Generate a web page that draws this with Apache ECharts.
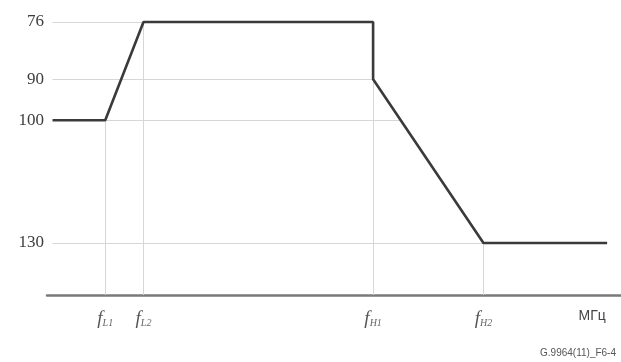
<!DOCTYPE html>
<html>
<head>
<meta charset="utf-8">
<script src="https://cdn.jsdelivr.net/npm/echarts@6/dist/echarts.min.js"></script>
<style>
  html, body { margin: 0; padding: 0; background: #fff; }
  #chart { width: 621px; height: 362px; }
</style>
</head>
<body>
<div id="chart"></div>
<script>
// schematic frequencies (arbitrary units) and levels of the mask
var maskFreqs = [0, 9.5, 16.4, 57.8, 57.8, 77.7, 100];
var maskLevels = [100, 100, 76, 76, 90, 130, 130];

// tick labels
var yTicks = [76, 90, 100, 130];
var xTicks = [9.5, 16.4, 57.8, 77.7];
var xTickNames = ['L1', 'L2', 'H1', 'H2'];
var unitPos = 97.3;
var unitName = 'МГц';

var xMin = -1, xMax = 102.5;
var yMin = 76, yMax = 142.7;

// x where the mask crosses a given level (last crossing, on the falling side)
function crossX(level) {
  for (var i = maskFreqs.length - 2; i >= 0; i--) {
    var a = maskLevels[i], b = maskLevels[i + 1];
    if (a !== b && level >= Math.min(a, b) && level <= Math.max(a, b)) {
      return maskFreqs[i] + (level - a) / (b - a) * (maskFreqs[i + 1] - maskFreqs[i]);
    }
  }
  return maskFreqs[0];
}

var dropLines = [];
yTicks.forEach(function (lv) {
  dropLines.push([{ coord: [0, lv] }, { coord: [crossX(lv), lv] }]);
});
// vertical drop lines from the mask corners down to the axis
[1, 2, 4, 5].forEach(function (i) {
  dropLines.push([{ coord: [maskFreqs[i], maskLevels[i]] }, { coord: [maskFreqs[i], yMax] }]);
});

var data = maskFreqs.map(function (f, i) { return [f, maskLevels[i]]; });

var chart = echarts.init(document.getElementById('chart'));
chart.setOption({
  backgroundColor: '#fff',
  animation: false,
  grid: { left: 47, right: 0, top: 22, bottom: 67 },
  xAxis: {
    type: 'value',
    min: xMin,
    max: xMax,
    axisLine: { show: true, lineStyle: { color: '#7a7a7a', width: 2.5 } },
    axisTick: { show: false },
    splitLine: { show: false },
    axisLabel: {
      customValues: xTicks.concat([unitPos]),
      margin: 14,
      formatter: function (v) {
        var k = xTicks.indexOf(v);
        if (k < 0) return '{u|' + unitName + '}';
        return '{f|f}{s|' + xTickNames[k] + '}';
      },
      rich: {
        f: { fontFamily: 'Liberation Serif', fontStyle: 'italic', fontSize: 19, color: '#555' },
        s: { fontFamily: 'Liberation Serif', fontStyle: 'italic', fontSize: 10, color: '#666', padding: [9, 0, 0, 0] },
        u: { fontFamily: 'Liberation Sans', fontSize: 14, color: '#444' }
      }
    }
  },
  yAxis: {
    type: 'value',
    inverse: true,
    min: yMin,
    max: yMax,
    axisLine: { show: false },
    axisTick: { show: false },
    splitLine: { show: false },
    axisLabel: {
      customValues: yTicks,
      margin: 3,
      fontFamily: 'Liberation Serif',
      fontSize: 17,
      color: '#3d3d3d'
    }
  },
  graphic: [{
    type: 'text',
    right: 5,
    bottom: 4,
    style: { text: 'G.9964(11)_F6-4', font: '10px "Liberation Sans"', fill: '#555' }
  }],
  series: [{
    type: 'line',
    data: data,
    symbol: 'none',
    clip: false,
    z: 3,
    lineStyle: { color: '#3a3a3a', width: 2.6 },
    markLine: {
      silent: true,
      symbol: 'none',
      label: { show: false },
      z: 1,
      lineStyle: { color: '#d6d6d6', width: 1, type: 'solid' },
      data: dropLines
    }
  }]
});
</script>
</body>
</html>
